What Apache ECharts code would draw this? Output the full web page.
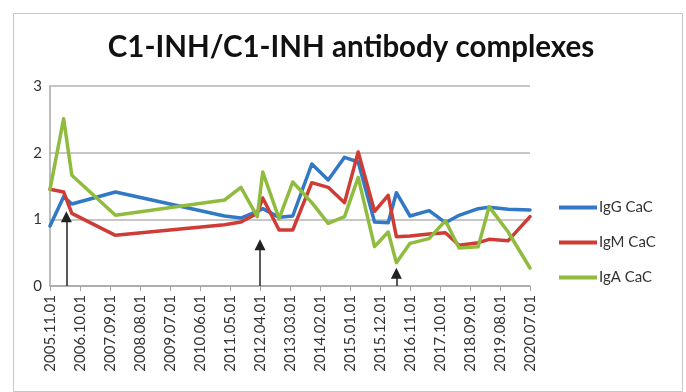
<!DOCTYPE html>
<html>
<head>
<meta charset="utf-8">
<script src="https://cdn.jsdelivr.net/npm/echarts@6/dist/echarts.min.js"></script>
<style>
  html, body { margin: 0; padding: 0; background: #fff; }
  #chart { width: 686px; height: 392px; }
</style>
</head>
<body>
<div id="chart"></div>
<script>
// Sampling dates (year.month) shared by all three series
const sampleDates = ['2005.11','2006.04','2006.07','2007.11','2011.03','2011.09','2012.03','2012.05',
  '2012.11','2013.04','2013.11','2014.05','2014.11','2015.04','2015.10','2016.03','2016.06','2016.11',
  '2017.06','2017.12','2018.05','2018.12','2019.04','2019.11','2020.07'];

const igG = [0.90,1.34,1.23,1.41,1.05,1.02,1.12,1.16,1.03,1.05,1.83,1.59,1.93,1.86,0.96,0.95,1.40,1.05,1.13,0.95,1.06,1.16,1.18,1.15,1.14];
const igM = [1.45,1.41,1.09,0.76,0.92,0.96,1.09,1.32,0.84,0.84,1.55,1.48,1.25,2.01,1.12,1.36,0.74,0.75,0.78,0.80,0.61,0.65,0.70,0.68,1.04];
const igA = [1.45,2.51,1.66,1.06,1.29,1.48,1.04,1.71,1.01,1.56,1.25,0.94,1.04,1.63,0.59,0.81,0.35,0.64,0.71,0.98,0.57,0.59,1.19,0.81,0.27];

// Treatment markers (date, arrow height)
const arrowDates = ['2006.05','2012.04','2016.06'];
const arrowHeights = [1.04, 0.62, 0.19];

const startYear = 2005, startMonth = 11;
function monthIndex(d) {
  const [y, m] = d.split('.').map(Number);
  return (y - startYear) * 12 + (m - startMonth);
}
function monthLabel(idx) {
  const t = startMonth - 1 + Math.round(idx);
  const y = startYear + Math.floor(t / 12);
  const m = t % 12 + 1;
  return y + '.' + String(m).padStart(2, '0') + '.01';
}
const pairs = vals => sampleDates.map((d, i) => [monthIndex(d), vals[i]]);

const font = 'Lato, "Noto Sans", sans-serif';
const lineStyle = c => ({ color: c, width: 3.5, cap: 'round', join: 'round' });

const chart = echarts.init(document.getElementById('chart'));
chart.setOption({
  animation: false,
  backgroundColor: '#fff',
  graphic: [{
    type: 'rect', left: 11, top: 11,
    shape: { width: 669, height: 378 },
    style: { fill: 'none', stroke: '#c8c8c8', lineWidth: 1 }, silent: true, z: -1
  }],
  title: {
    text: 'C1-INH/C1-INH antibody complexes',
    left: 346, top: 27, textAlign: 'center',
    textStyle: { fontFamily: font, fontWeight: 'bold', fontSize: 29.5, color: '#111' }
  },
  legend: {
    orient: 'vertical', left: 554, top: 195, itemGap: 20,
    itemWidth: 38, itemHeight: 4, icon: 'rect',
    data: ['IgG CaC', 'IgM CaC', 'IgA CaC'],
    textStyle: { fontFamily: font, fontSize: 15, color: '#333', padding: [0, 0, 0, -3] }
  },
  grid: { left: 50, right: 156, top: 86, bottom: 106 },
  xAxis: {
    type: 'value', min: 0, max: 176, interval: 11,
    axisLine: { lineStyle: { color: '#a6a6a6', width: 1.5 } },
    axisTick: { length: 5, lineStyle: { color: '#a6a6a6' } },
    splitLine: { show: false },
    axisLabel: {
      rotate: 90, margin: 9, color: '#333', fontFamily: font, fontSize: 15,
      showMinLabel: true, showMaxLabel: true,
      formatter: v => monthLabel(v)
    }
  },
  yAxis: {
    type: 'value', min: 0, max: 3, interval: 1,
    axisLine: { show: true, lineStyle: { color: '#a6a6a6', width: 1.5 } },
    axisTick: { show: false },
    splitLine: { lineStyle: { color: '#b5b5b5', width: 1.5 } },
    axisLabel: { margin: 8, color: '#333', fontFamily: font, fontSize: 15 }
  },
  series: [
    { name: 'IgG CaC', type: 'line', data: pairs(igG), showSymbol: false, color: '#3178c6', lineStyle: lineStyle('#3178c6'), z: 3 },
    { name: 'IgM CaC', type: 'line', data: pairs(igM), showSymbol: false, color: '#cf3c36', lineStyle: lineStyle('#cf3c36'), z: 4 },
    { name: 'IgA CaC', type: 'line', data: pairs(igA), showSymbol: false, color: '#8fbc3f', lineStyle: lineStyle('#8fbc3f'), z: 5 },
    {
      name: 'markers', type: 'line', data: [], z: 6,
      markLine: {
        silent: true, animation: false,
        symbol: ['none', 'triangle'], symbolSize: 11,
        label: { show: false },
        lineStyle: { color: '#222', width: 1.5, type: 'solid' },
        itemStyle: { color: '#111' },
        data: arrowDates.map((d, i) => [
          { coord: [monthIndex(d), 0] },
          { coord: [monthIndex(d), arrowHeights[i]] }
        ])
      }
    }
  ]
});
</script>
</body>
</html>
